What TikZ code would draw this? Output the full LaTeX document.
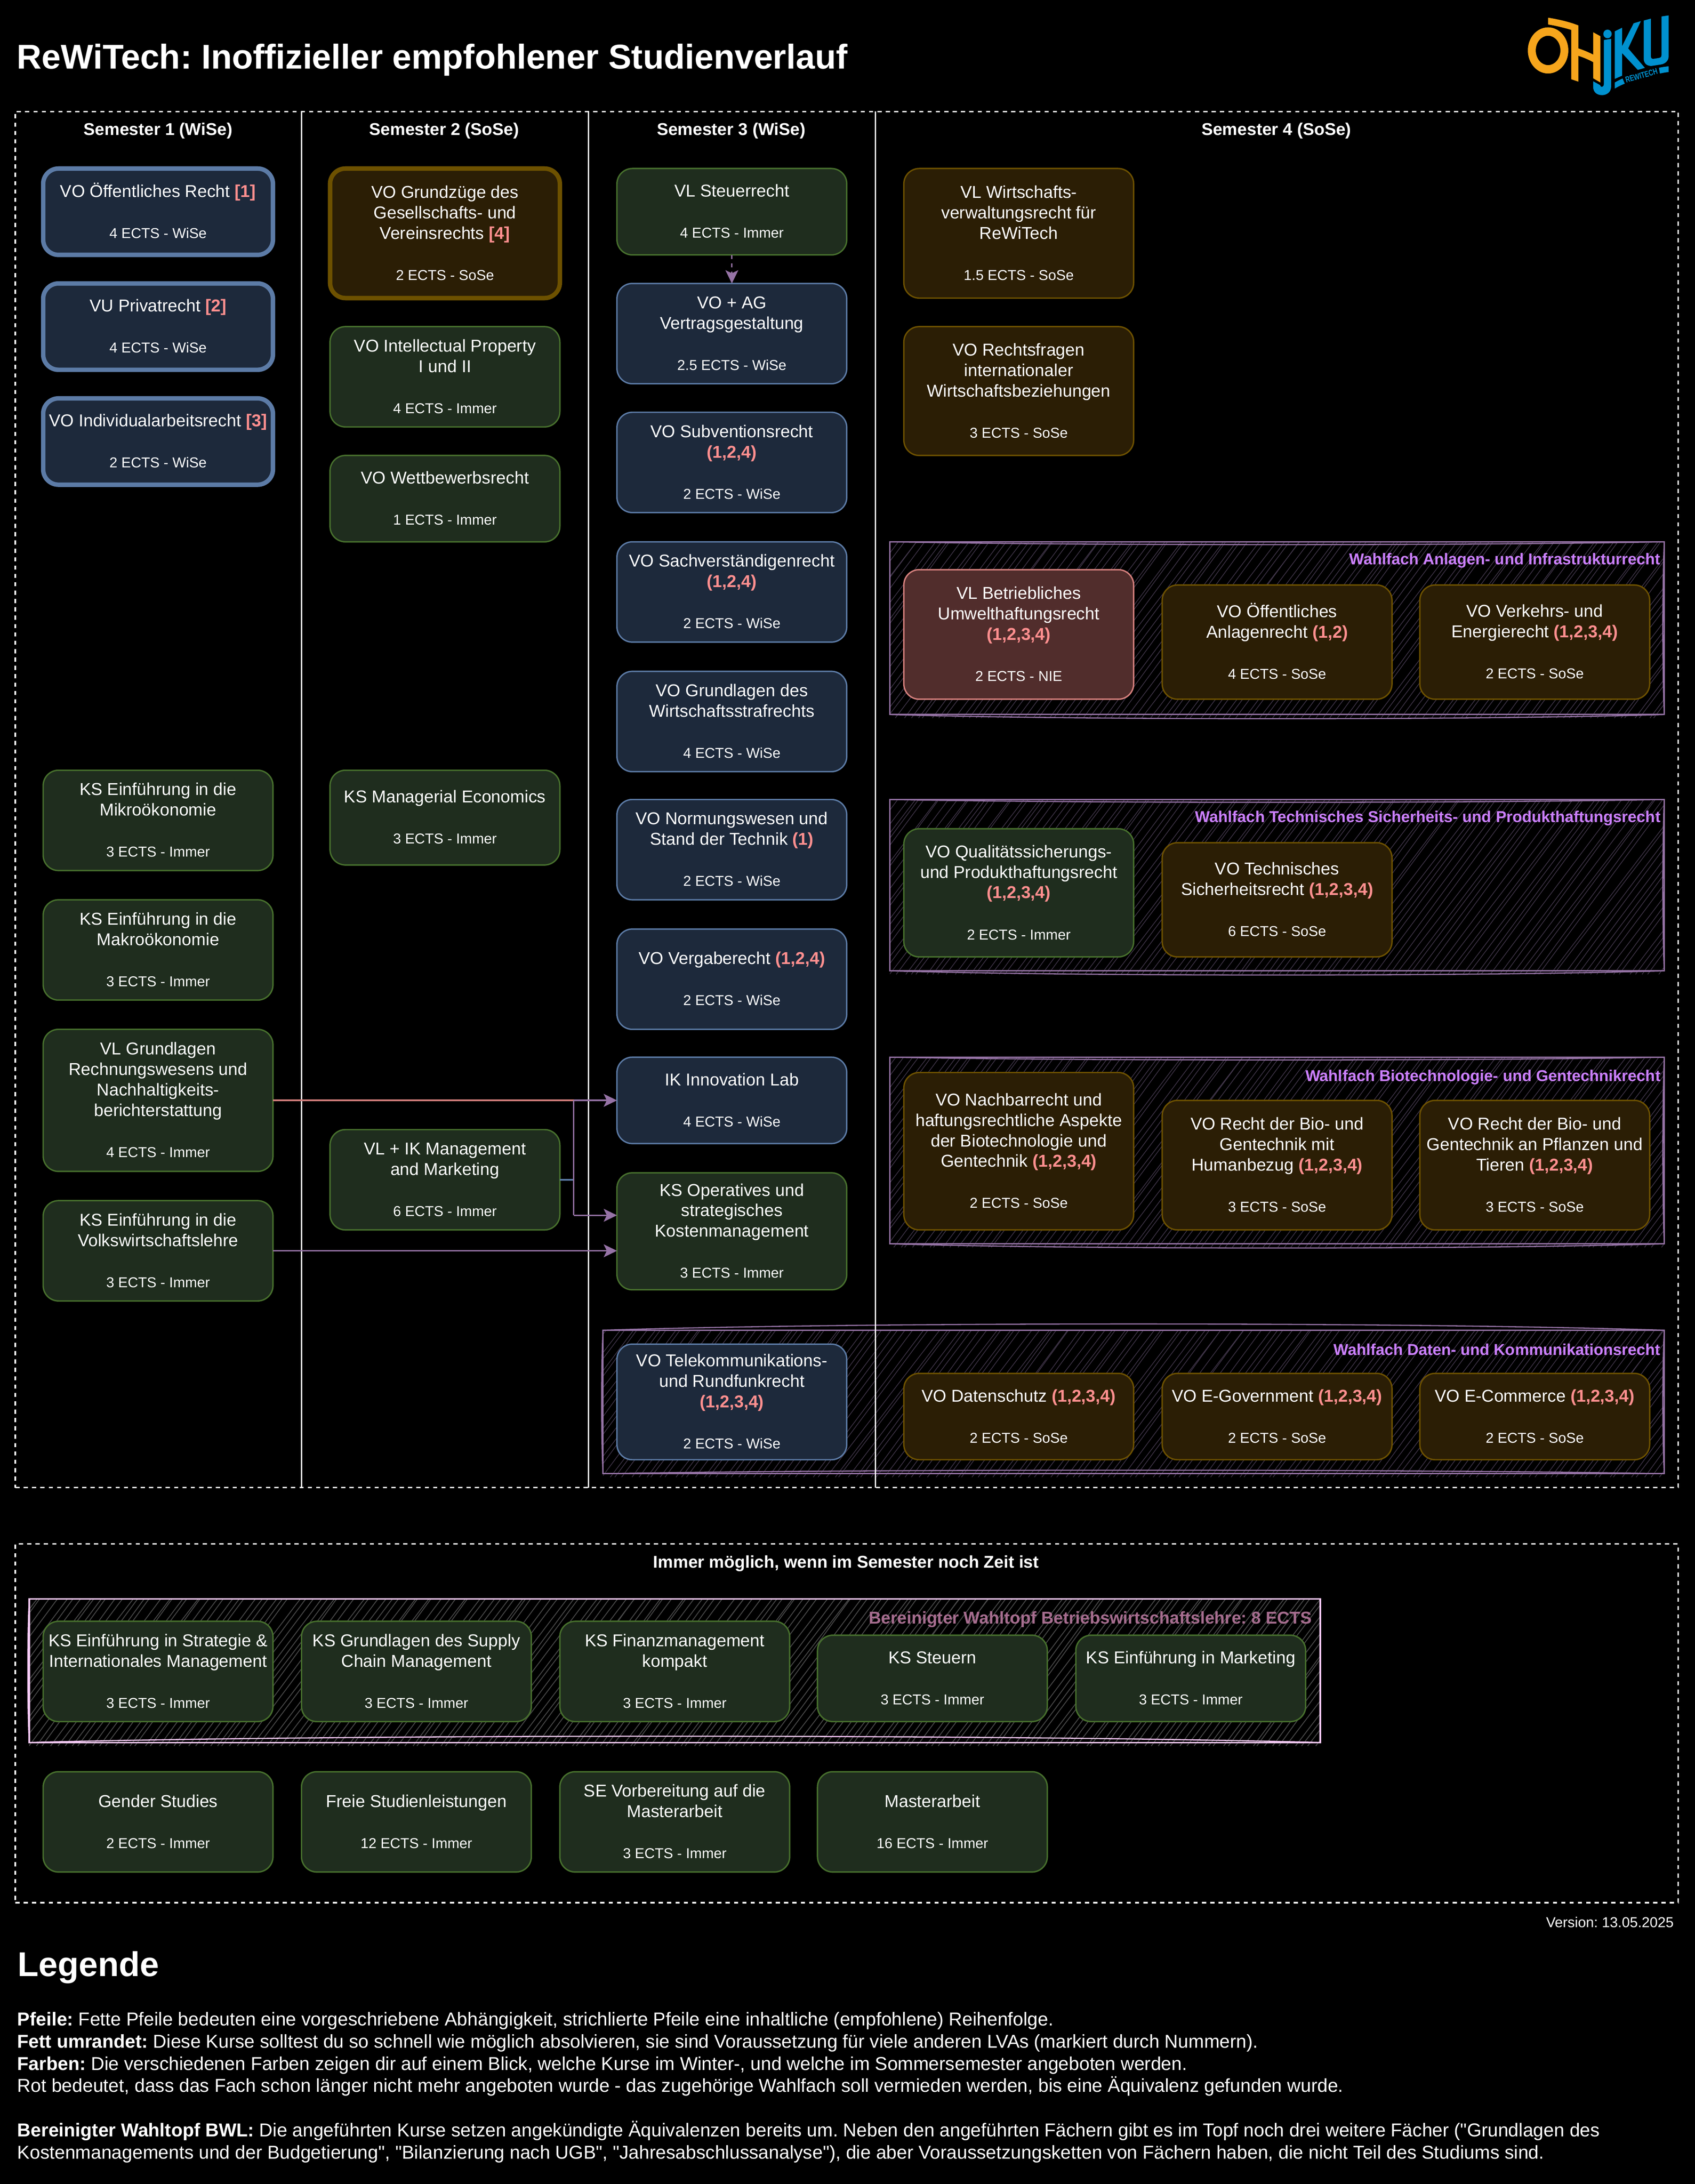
\documentclass[tikz,border=0pt]{standalone}
\usepackage{fontspec}
\usetikzlibrary{arrows.meta,calc}
\newfontfamily\lib{Liberation Sans}
\AtBeginDocument{\lib\frenchspacing}
\newcommand\fs[2]{\lib\frenchspacing\fontsize{#1}{#2}\selectfont}
\definecolor{grfill}{HTML}{1F2D1E}\definecolor{grline}{HTML}{47702D}
\definecolor{blfill}{HTML}{1D293B}\definecolor{blline}{HTML}{5C7BA6}
\definecolor{amfill}{HTML}{2B1E05}\definecolor{amline}{HTML}{6D5100}
\definecolor{rdfill}{HTML}{512D2C}\definecolor{rdline}{HTML}{D7817E}
\definecolor{redtxt}{HTML}{FF8F8F}
\definecolor{flow}{HTML}{9673A6}
\definecolor{grplbl}{HTML}{CC80FF}
\definecolor{bwlline}{HTML}{FFCCFF}\definecolor{bwllbl}{HTML}{A66D8F}
\definecolor{hatchp}{HTML}{42374B}\definecolor{hatchg}{HTML}{484848}
\definecolor{logoo}{HTML}{F6A51C}\definecolor{logob}{HTML}{0091CF}
\tikzset{
  x=1pt,y=-1pt,
  coursebox/.style={draw,rounded corners=11pt,line width=1pt,minimum width=165pt,inner sep=0pt,outer sep=0pt,
    align=center,text=white,font=\fs{12.35}{14.7},anchor=north west},
  gr/.style={coursebox,fill=grfill,draw=grline},
  bl/.style={coursebox,fill=blfill,draw=blline},
  am/.style={coursebox,fill=amfill,draw=amline},
  rd/.style={coursebox,fill=rdfill,draw=rdline},
  blt/.style={bl,line width=3.2pt},
  amt/.style={am,line width=3.2pt},
  framebox/.style={draw=white,line width=1pt,dash pattern=on 3pt off 3pt,anchor=north west,inner sep=0pt,outer sep=0pt},
  colline/.style={draw=white,line width=1pt},
  headlbl/.style={text=white,font=\fs{12.24}{14.7}\bfseries,inner sep=0pt},
  grouplbl/.style={font=\fs{11.32}{14}\bfseries,anchor=east,inner sep=0pt},
  flowline/.style={draw=flow,line width=1.05pt},
  tipped/.style={-{Stealth[length=9.5pt,width=9.2pt,inset=2.2pt]}},
}
\newcommand\rdt[1]{{\bfseries\color{redtxt}#1}}
\newcommand\course[7]{%
  \pgfmathsetmacro\hh{#5-#4}%
  \node[#2,minimum height=\hh pt] (#1) at (#3,#4) {\rule{0pt}{10pt}#6\\[14.8pt]{\fs{10.3}{14.7}#7\rule[-1.8pt]{0pt}{1.8pt}}};%
}
\def\parsebow#1,#2,#3,#4\relax{\def\tb{#1}\def\bb{#2}\def\lb{#3}\def\rb{#4}}
\newcommand\sketchgroup[9]{%
  \parsebow#9\relax
  \begin{scope}
    \clip (#2,#3) rectangle (#4,#5+2.5);
    \pgfmathsetmacro\gh{#5+2.5-#3}%
    \pgfmathtruncatemacro\nn{(#4-#2+.75*\gh)/5.2}%
    \foreach \i in {0,...,\nn}{%
      \pgfmathsetmacro\xa{#2-.75*\gh+\i*5.2+rand*1.6}%
      \pgfmathsetmacro\xb{\xa+.75*\gh+rand*2.5}%
      \draw[#7,line width=#8pt] (\xa,#5+2.5) -- (\xb,#3);
    }
  \end{scope}
  \pgfmathsetmacro\gw{#4-#2}\pgfmathsetmacro\ghh{#5-#3}%
  \node[draw=#6,line width=1pt,minimum width=\gw pt,minimum height=\ghh pt,anchor=north west,inner sep=0pt,outer sep=0pt] (#1) at (#2,#3) {};
  \draw[#6,line width=.8pt]
    (#1.north west) .. controls ($(#1.north west)!.25!(#1.north east)+(0,1.33*\tb)$) and ($(#1.north west)!.75!(#1.north east)+(0,1.33*\tb)$) .. (#1.north east)
    (#1.south west) .. controls ($(#1.south west)!.25!(#1.south east)+(0,1.33*\bb)$) and ($(#1.south west)!.75!(#1.south east)+(0,1.33*\bb)$) .. (#1.south east)
    (#1.north west) .. controls ($(#1.north west)!.25!(#1.south west)+(1.33*\lb,0)$) and ($(#1.north west)!.75!(#1.south west)+(1.33*\lb,0)$) .. (#1.south west)
    (#1.north east) .. controls ($(#1.north east)!.25!(#1.south east)+(1.33*\rb,0)$) and ($(#1.north east)!.75!(#1.south east)+(1.33*\rb,0)$) .. (#1.south east);
}
\begin{document}
\begin{tikzpicture}
\useasboundingbox[fill=black] (0,0) rectangle (1217,1568);
\pgfmathsetseed{4711}
% title
\node[anchor=west,text=white,font=\fs{24.7}{30}\bfseries,inner sep=0pt] (title) at (12,43) {ReWiTech: Inoffizieller empfohlener Studienverlauf};
% logo
\begin{scope}[shift={(1055.3,0)},xscale=.10308,yscale=.0858]
  \fill[logoo,even odd rule] (546,422) ellipse [x radius=141,y radius=193] (546,422) ellipse [x radius=86,y radius=123];
  \fill[logoo] (546,148) .. controls (620,162) and (700,185) .. (757,213) -- (757,683) -- (707,663) -- (707,250) .. controls (650,230) and (600,215) .. (546,205) -- cycle;
  \fill[logoo] (757,405) .. controls (795,420) and (830,438) .. (860,457) -- (860,270) -- (910,303) -- (910,690) -- (860,655) -- (860,520) .. controls (830,500) and (795,482) .. (757,467) -- cycle;
  \fill[logob] (960,284) ellipse [x radius=29,y radius=36];
  \fill[logob] (935,335) -- (985,325) -- (985,725) .. controls (985,770) and (955,796) .. (922,796) .. controls (885,796) and (860,770) .. (860,725) -- (860,680) -- (908,712) .. controls (910,733) and (935,735) .. (935,700) -- cycle;
  \fill[logob] (1011,262) -- (1062,232) -- (1062,385) -- (1142,195) -- (1192,177) -- (1104,405) -- (1220,568) -- (1171,585) -- (1062,445) -- (1062,633) -- (1011,660) -- cycle;
  \fill[logob] (1212,172) -- (1262,156) -- (1262,470) .. controls (1262,488) and (1270,494) .. (1282,492) -- (1318,485) .. controls (1330,483) and (1336,476) .. (1336,462) -- (1336,138) -- (1386,129) -- (1386,470) .. controls (1386,510) and (1360,535) .. (1330,540) -- (1270,551) .. controls (1235,555) and (1212,530) .. (1212,490) -- cycle;
  \fill[logob] (1011,690) .. controls (1030,677) and (1050,665) .. (1065,657) -- (1080,700) .. controls (1055,712) and (1030,727) .. (1011,741) -- cycle;
  \fill[logob] (1318,567) .. controls (1340,562) and (1365,557) .. (1386,555) -- (1386,603) .. controls (1365,605) and (1345,610) .. (1325,615) -- cycle;
  \node[text=logob,font=\fs{6}{7}\bfseries,inner sep=0pt,rotate=16] (logotext) at (1196,632) {\scalebox{.74}[1]{REWITECH}};
\end{scope}
% frames
\node[framebox,minimum width=1194pt,minimum height=988pt] (semframe) at (11,80) {};
\node[framebox,minimum width=1194pt,minimum height=257.5pt] (immerframe) at (11,1108.5) {};
\node[headlbl] (s1) at (113.5,94) {Semester 1 (WiSe)};
\node[headlbl] (s2) at (319,94) {Semester 2 (SoSe)};
\node[headlbl] (s3) at (525,94) {Semester 3 (WiSe)};
\node[headlbl] (s4) at (916.5,94) {Semester 4 (SoSe)};
\node[headlbl] (immer) at (607.5,1122.5) {Immer möglich, wenn im Semester noch Zeit ist};
% groups
\sketchgroup{g1}{639}{389}{1195}{513}{flow}{hatchp}{.45}{2,3,0,-1}
\sketchgroup{g2}{639}{574}{1195}{697}{flow}{hatchp}{.45}{2,3,0,-1}
\sketchgroup{g3}{639}{759}{1195}{893}{flow}{hatchp}{.45}{2,3,0,-1}
\sketchgroup{g4}{433}{955}{1195}{1058}{flow}{hatchp}{.45}{-4.5,-2.5,-1,-1}
\sketchgroup{g5}{21}{1148}{948}{1251}{bwlline}{hatchg}{.6}{0,-4.5,-1,0}
\node[grouplbl,text=grplbl] (g1l) at (1192.5,402.5) {Wahlfach Anlagen- und Infrastrukturrecht};
\node[grouplbl,text=grplbl] (g2l) at (1192.5,587.5) {Wahlfach Technisches Sicherheits- und Produkthaftungsrecht};
\node[grouplbl,text=grplbl] (g3l) at (1192.5,773.5) {Wahlfach Biotechnologie- und Gentechnikrecht};
\node[grouplbl,text=grplbl] (g4l) at (1192.5,969) {Wahlfach Daten- und Kommunikationsrecht};
\node[grouplbl,font=\fs{12.3}{14.7}\bfseries,text=bwllbl] (g5l) at (942,1162.5) {Bereinigter Wahltopf Betriebswirtschaftslehre: 8 ECTS};
% column lines
\draw[colline] (216.5,80) -- (216.5,1068);
\draw[colline] (422.5,80) -- (422.5,1068);
\draw[colline] (628.5,80) -- (628.5,1068);
% semester 1
\course{a1}{blt}{31}{121}{183}{VO Öffentliches Recht \rdt{[1]}}{4 ECTS - WiSe}
\course{a2}{blt}{31}{203.5}{265.5}{VU Privatrecht \rdt{[2]}}{4 ECTS - WiSe}
\course{a3}{blt}{31}{286}{348}{VO Individualarbeitsrecht \rdt{[3]}}{2 ECTS - WiSe}
\course{a4}{gr}{31}{553}{625}{KS Einführung in die\\Mikroökonomie}{3 ECTS - Immer}
\course{a5}{gr}{31}{646}{718}{KS Einführung in die\\Makroökonomie}{3 ECTS - Immer}
\course{vlgrund}{gr}{31}{739}{841}{VL Grundlagen\\Rechnungswesens und\\Nachhaltigkeits-\\berichterstattung}{4 ECTS - Immer}
\course{ksvolks}{gr}{31}{862}{934}{KS Einführung in die\\Volkswirtschaftslehre}{3 ECTS - Immer}
% semester 2
\course{b1}{amt}{237}{121}{214}{VO Grundzüge des\\Gesellschafts- und\\Vereinsrechts \rdt{[4]}}{2 ECTS - SoSe}
\course{b2}{gr}{237}{234.5}{306.5}{VO Intellectual Property\\I und II}{4 ECTS - Immer}
\course{b3}{gr}{237}{327}{389}{VO Wettbewerbsrecht}{1 ECTS - Immer}
\course{b4}{gr}{237}{553}{621}{KS Managerial Economics}{3 ECTS - Immer}
\course{vlik}{gr}{237}{811}{883}{VL + IK Management\\and Marketing}{6 ECTS - Immer}
% semester 3
\course{steuer}{gr}{443}{121}{183}{VL Steuerrecht}{4 ECTS - Immer}
\course{vertrag}{bl}{443}{203.5}{275.5}{VO + AG\\Vertragsgestaltung}{2.5 ECTS - WiSe}
\course{c3}{bl}{443}{296}{368}{VO Subventionsrecht\\\rdt{(1,2,4)}}{2 ECTS - WiSe}
\course{c4}{bl}{443}{389}{461}{VO Sachverständigenrecht\\\rdt{(1,2,4)}}{2 ECTS - WiSe}
\course{c5}{bl}{443}{482}{554}{VO Grundlagen des\\Wirtschaftsstrafrechts}{4 ECTS - WiSe}
\course{c6}{bl}{443}{574}{646}{VO Normungswesen und\\Stand der Technik \rdt{(1)}}{2 ECTS - WiSe}
\course{c7}{bl}{443}{667}{739}{VO Vergaberecht \rdt{(1,2,4)}}{2 ECTS - WiSe}
\course{ikinno}{bl}{443}{759}{821}{IK Innovation Lab}{4 ECTS - WiSe}
\course{ksop}{gr}{443}{842}{926}{KS Operatives und\\strategisches\\Kostenmanagement}{3 ECTS - Immer}
\course{c10}{bl}{443}{965}{1048}{VO Telekommunikations-\\und Rundfunkrecht\\\rdt{(1,2,3,4)}}{2 ECTS - WiSe}
% semester 4
\course{d1}{am}{649}{121}{214}{VL Wirtschafts-\\verwaltungsrecht für\\ReWiTech}{1.5 ECTS - SoSe}
\course{d2}{am}{649}{234.5}{327}{VO Rechtsfragen\\internationaler\\Wirtschaftsbeziehungen}{3 ECTS - SoSe}
\course{e1}{rd}{649}{409}{502}{VL Betriebliches\\Umwelthaftungsrecht\\\rdt{(1,2,3,4)}}{2 ECTS - NIE}
\course{e2}{am}{834.5}{420}{502}{VO Öffentliches\\Anlagenrecht \rdt{(1,2)}}{4 ECTS - SoSe}
\course{e3}{am}{1019.5}{420}{502}{VO Verkehrs- und\\Energierecht \rdt{(1,2,3,4)}}{2 ECTS - SoSe}
\course{f1}{gr}{649}{595}{687}{VO Qualitätssicherungs-\\und Produkthaftungsrecht\\\rdt{(1,2,3,4)}}{2 ECTS - Immer}
\course{f2}{am}{834.5}{605}{687}{VO Technisches\\Sicherheitsrecht \rdt{(1,2,3,4)}}{6 ECTS - SoSe}
\course{h1}{am}{649}{770}{883}{VO Nachbarrecht und\\haftungsrechtliche Aspekte\\der Biotechnologie und\\Gentechnik \rdt{(1,2,3,4)}}{2 ECTS - SoSe}
\course{h2}{am}{834.5}{790}{883}{VO Recht der Bio- und\\Gentechnik mit\\Humanbezug \rdt{(1,2,3,4)}}{3 ECTS - SoSe}
\course{h3}{am}{1019.5}{790}{883}{VO Recht der Bio- und\\Gentechnik an Pflanzen und\\Tieren \rdt{(1,2,3,4)}}{3 ECTS - SoSe}
\course{i1}{am}{649}{986}{1048}{VO Datenschutz \rdt{(1,2,3,4)}}{2 ECTS - SoSe}
\course{i2}{am}{834.5}{986}{1048}{VO E-Government \rdt{(1,2,3,4)}}{2 ECTS - SoSe}
\course{i3}{am}{1019.5}{986}{1048}{VO E-Commerce \rdt{(1,2,3,4)}}{2 ECTS - SoSe}
% bottom
\course{k1}{gr}{31}{1164}{1236}{KS Einführung in Strategie \&\\Internationales Management}{3 ECTS - Immer}
\course{k2}{gr}{216.5}{1164}{1236}{KS Grundlagen des Supply\\Chain Management}{3 ECTS - Immer}
\course{k3}{gr}{402}{1164}{1236}{KS Finanzmanagement\\kompakt}{3 ECTS - Immer}
\course{k4}{gr}{587}{1174}{1236}{KS Steuern}{3 ECTS - Immer}
\course{k5}{gr}{772.5}{1174}{1236}{KS Einführung in Marketing}{3 ECTS - Immer}
\course{m1}{gr}{31}{1272}{1344}{Gender Studies}{2 ECTS - Immer}
\course{m2}{gr}{216.5}{1272}{1344}{Freie Studienleistungen}{12 ECTS - Immer}
\course{m3}{gr}{402}{1272}{1344}{SE Vorbereitung auf die\\Masterarbeit}{3 ECTS - Immer}
\course{m4}{gr}{587}{1272}{1344}{Masterarbeit}{16 ECTS - Immer}
% connectors
\draw[flowline,dash pattern=on 3pt off 3pt,line width=.8pt,tipped] (steuer.south) -- (vertrag.north);
\coordinate (jt) at (412,790);
\coordinate (jl) at (412,847);
\coordinate (jb) at (412,872.5);
\draw[line width=1.05pt,rdline] (vlgrund.east) -- (jt);
\draw[line width=1.05pt,blline] (vlik.east) -- (jl);
\draw[flowline,tipped] (jt) -- (ikinno.west);
\draw[flowline] (jt) -- (jb);
\draw[flowline,tipped] (jb) -- (jb -| ksop.west);
\draw[flowline,tipped] (ksvolks.east) -- (ksvolks.east -| ksop.west);
% footer
\node[anchor=east,text=white,font=\fs{10.3}{12},inner sep=0pt] (version) at (1202,1380) {Version: 13.05.2025};
\node[anchor=west,text=white,font=\fs{24.7}{30}\bfseries,inner sep=0pt] (legende) at (12.5,1412.5) {Legende};
\node[anchor=north west,text=white,align=left,font=\fs{13.4}{15.9},inner sep=0pt] (legtext) at (12.3,1444.5) {%
\textbf{Pfeile:} Fette Pfeile bedeuten eine vorgeschriebene Abhängigkeit, strichlierte Pfeile eine inhaltliche (empfohlene) Reihenfolge.\\
\textbf{Fett umrandet:} Diese Kurse solltest du so schnell wie möglich absolvieren, sie sind Voraussetzung für viele anderen LVAs (markiert durch Nummern).\\
\textbf{Farben:} Die verschiedenen Farben zeigen dir auf einem Blick, welche Kurse im Winter-, und welche im Sommersemester angeboten werden.\\
Rot bedeutet, dass das Fach schon länger nicht mehr angeboten wurde - das zugehörige Wahlfach soll vermieden werden, bis eine Äquivalenz gefunden wurde.\\
\mbox{}\\
\textbf{Bereinigter Wahltopf BWL:} Die angeführten Kurse setzen angekündigte Äquivalenzen bereits um. Neben den angeführten Fächern gibt es im Topf noch drei weitere Fächer ("Grundlagen des\\
Kostenmanagements und der Budgetierung", "Bilanzierung nach UGB", "Jahresabschlussanalyse"), die aber Voraussetzungsketten von Fächern haben, die nicht Teil des Studiums sind.};
\end{tikzpicture}
\end{document}
